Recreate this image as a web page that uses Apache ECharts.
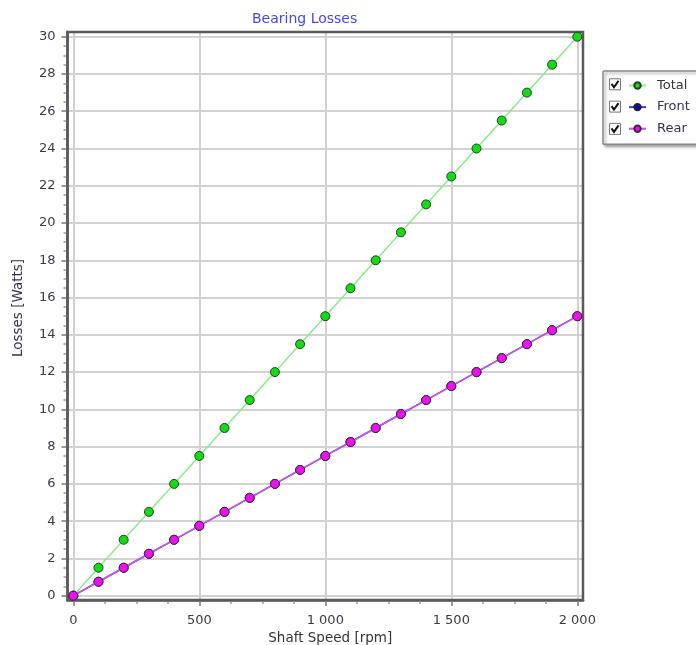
<!DOCTYPE html>
<html><head><meta charset="utf-8">
<script src="https://cdn.jsdelivr.net/npm/echarts@6/dist/echarts.min.js"></script>
<style>html,body{margin:0;padding:0;background:#fff}#c{width:696px;height:645px}</style>
</head><body><div id="c"></div>
<script>
const speeds = [0,100,200,300,400,500,600,700,800,900,1000,1100,1200,1300,1400,1500,1600,1700,1800,1900,2000];
const totalLoss = [0,1.5,3,4.5,6,7.5,9,10.5,12,13.5,15,16.5,18,19.5,21,22.5,24,25.5,27,28.5,30];
const frontLoss = [0,0.75,1.5,2.25,3,3.75,4.5,5.25,6,6.75,7.5,8.25,9,9.75,10.5,11.25,12,12.75,13.5,14.25,15];
const rearLoss  = [0,0.75,1.5,2.25,3,3.75,4.5,5.25,6,6.75,7.5,8.25,9,9.75,10.5,11.25,12,12.75,13.5,14.25,15];
const seriesNames = ['Total','Front','Rear'];
const xTicks = [0,500,1000,1500,2000];
const xMinorTicks = [0,125,250,375,500,625,750,875,1000,1125,1250,1375,1500,1625,1750,1875,2000];
const yTicks = [0,2,4,6,8,10,12,14,16,18,20,22,24,26,28,30];
const yMinorTicks = [0,0.5,1,1.5,2,2.5,3,3.5,4,4.5,5,5.5,6,6.5,7,7.5,8,8.5,9,9.5,10,10.5,11,11.5,12,12.5,13,13.5,14,14.5,15,15.5,16,16.5,17,17.5,18,18.5,19,19.5,20,20.5,21,21.5,22,22.5,23,23.5,24,24.5,25,25.5,26,26.5,27,27.5,28,28.5,29,29.5,30];

const FONT = 'DejaVu Sans';
// plot frame (grid) and the padded axis extents
const G = {left:67.5, top:32, width:515.5, height:568};
const XR = {min:-23, max:2022.6};
const YR = {min:-0.231, max:30.252};
const LEG = {left:603, top:71, rowGap:22.3, firstRow:84.3};

function fmt(v){ return String(v).replace(/\B(?=(\d{3})+(?!\d))/g,' '); }

const chart = echarts.init(document.getElementById('c'), null, {renderer:'canvas'});
const checkboxes = [];
seriesNames.forEach((n,i)=>{
  const cy = LEG.firstRow + i*LEG.rowGap;
  checkboxes.push({type:'rect', shape:{x:609.5, y:cy-5.5, width:11, height:11},
    style:{fill:'#fff', stroke:'#777', lineWidth:1}, z:100});
  checkboxes.push({type:'polyline', shape:{points:[[611.5,cy-0.5],[614,cy+3],[618.5,cy-3.5]]},
    style:{stroke:'#111', lineWidth:2, fill:null}, z:101});
});

const tickLine = {color:'#777', width:1.5};
const minorLine = {color:'#999', width:1.5};
const frameLine = {color:'#5a5a5a', width:2.5};

chart.setOption({
  backgroundColor:'#fff',
  animation:false,
  title:{text:'Bearing Losses', left:247, top:7,
    textStyle:{color:'#4646f0', fontFamily:FONT, fontSize:14, fontWeight:'normal'}},
  legend:{orient:'vertical', left:LEG.left, top:LEG.top, data:seriesNames,
    padding:[8,24,9,25], itemWidth:17, itemHeight:8, itemGap:8.6,
    backgroundColor:'#fff', borderColor:'#888', borderWidth:1.5, borderRadius:1,
    shadowColor:'rgba(0,0,0,0.35)', shadowBlur:3, shadowOffsetX:2, shadowOffsetY:2,
    selectedMode:false,
    textStyle:{color:'#333344', fontFamily:FONT, fontSize:13, padding:[0,0,0,6]}},
  grid:{left:G.left, top:G.top, width:G.width, height:G.height, containLabel:false,
    outerBoundsMode:'none', show:true, borderColor:'#5a5a5a', borderWidth:2.5,
    backgroundColor:'transparent', z:3},
  xAxis:[
    {type:'value', min:XR.min, max:XR.max, position:'bottom',
      name:'Shaft Speed [rpm]', nameLocation:'middle', nameGap:26,
      nameTextStyle:{color:'#333344', fontFamily:FONT, fontSize:13.5, padding:[0,0,0,10]},
      axisLine:{show:true, onZero:false, lineStyle:frameLine},
      axisTick:{show:true, length:6, customValues:xTicks, lineStyle:tickLine},
      axisLabel:{color:'#3a3a4a', fontFamily:FONT, fontSize:13, margin:14,
        customValues:xTicks, formatter:fmt},
      splitLine:{show:true, lineStyle:{color:'#d2d2d2', width:2}}},
    {type:'value', min:XR.min, max:XR.max, position:'bottom',
      axisLine:{show:false, onZero:false}, axisLabel:{show:false}, splitLine:{show:false},
      axisTick:{show:true, length:4, customValues:xMinorTicks, lineStyle:minorLine}}
  ],
  yAxis:[
    {type:'value', min:YR.min, max:YR.max, position:'left',
      name:'Losses [Watts]', nameLocation:'middle', nameGap:42,
      nameTextStyle:{color:'#333344', fontFamily:FONT, fontSize:13.5, padding:[0,0,0,16]},
      axisLine:{show:true, onZero:false, lineStyle:frameLine},
      axisTick:{show:true, length:6, customValues:yTicks, lineStyle:tickLine},
      axisLabel:{color:'#3a3a4a', fontFamily:FONT, fontSize:13, margin:12,
        customValues:yTicks},
      splitLine:{show:true, lineStyle:{color:'#d2d2d2', width:2}}},
    {type:'value', min:YR.min, max:YR.max, position:'left',
      axisLine:{show:false, onZero:false}, axisLabel:{show:false}, splitLine:{show:false},
      axisTick:{show:true, length:4, customValues:yMinorTicks, lineStyle:minorLine}}
  ],
  graphic:checkboxes,
  series:[
    {name:'Total', type:'line', data:speeds.map((s,i)=>[s,totalLoss[i]]),
      symbol:'circle', symbolSize:9, z:3,
      lineStyle:{color:'#86ec86', width:1.5},
      itemStyle:{color:'#12dd12', borderColor:'#2a3a2a', borderWidth:1}},
    {name:'Front', type:'line', data:speeds.map((s,i)=>[s,frontLoss[i]]),
      symbol:'circle', symbolSize:9, z:2,
      lineStyle:{color:'#3a3aee', width:1.5},
      itemStyle:{color:'#0000e0', borderColor:'#222', borderWidth:1}},
    {name:'Rear', type:'line', data:speeds.map((s,i)=>[s,rearLoss[i]]),
      symbol:'circle', symbolSize:9, z:4,
      lineStyle:{color:'#cc4ff0', width:1.5},
      itemStyle:{color:'#ee10ee', borderColor:'#3a2a3a', borderWidth:1}}
  ]
});
</script></body></html>
